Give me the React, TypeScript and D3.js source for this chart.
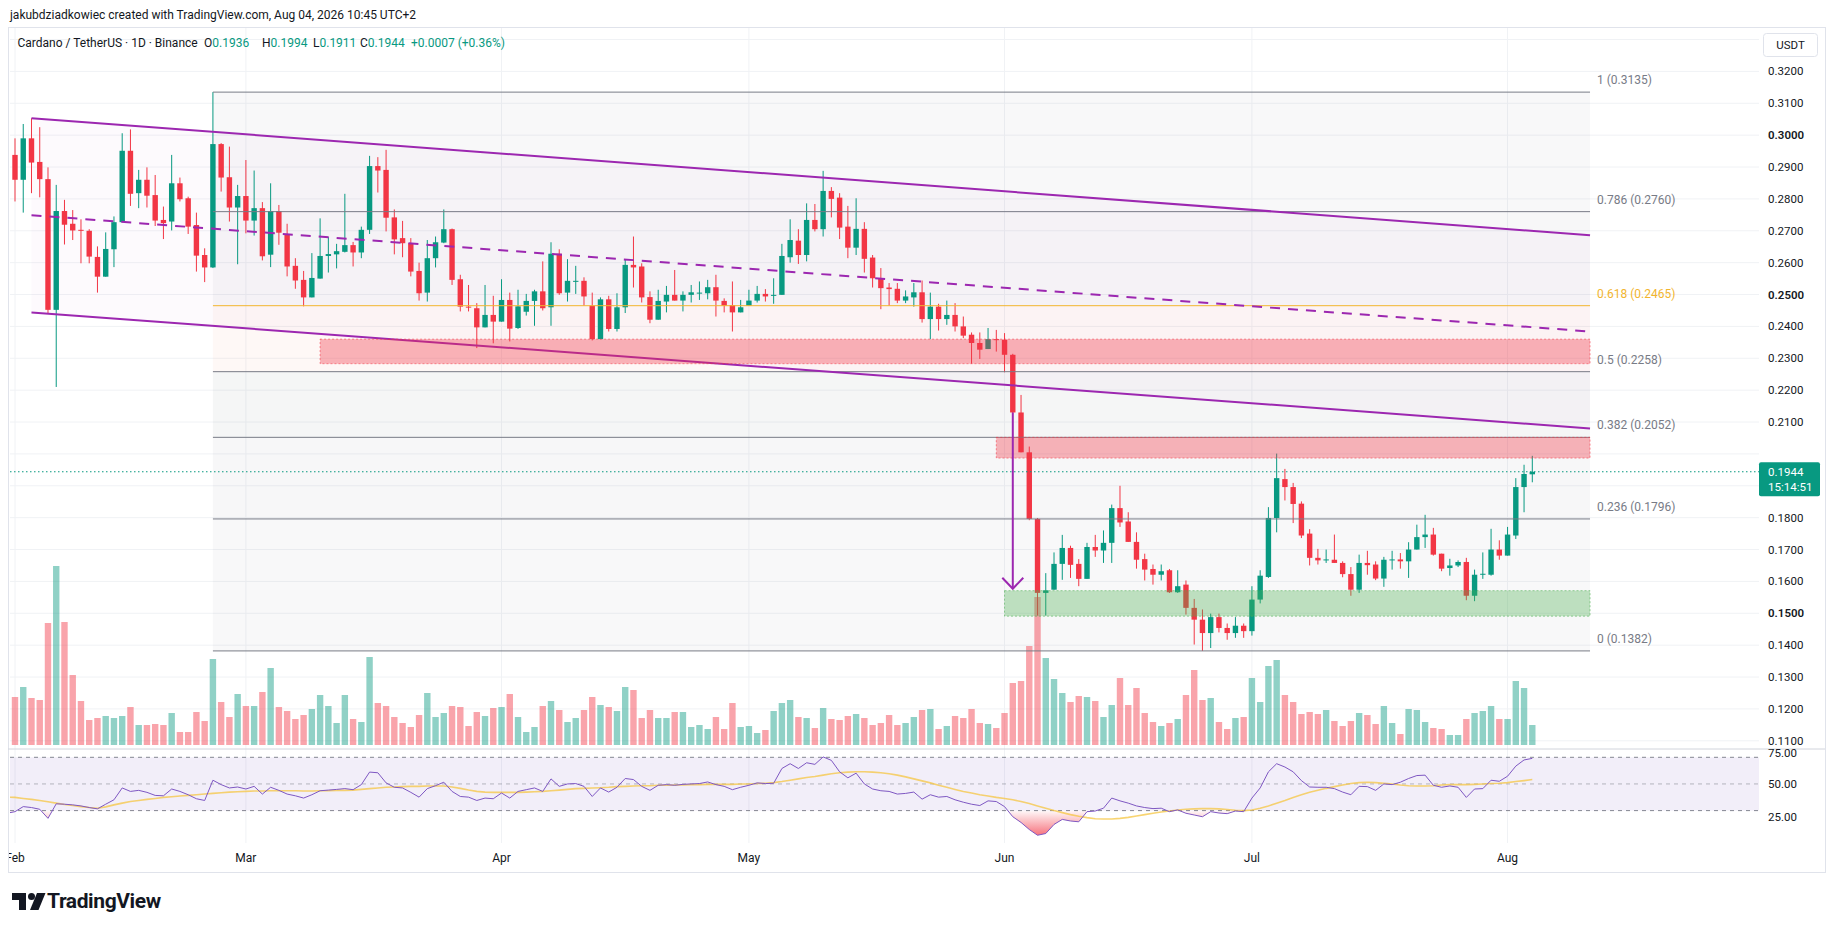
import React, { useMemo } from "react";
import * as d3 from "d3";

const W = 1835;
const H = 931;
const FONT = "Roboto, 'Noto Sans', sans-serif";
const GREEN = "#089981";
const RED = "#f23645";
const PURPLE = "#9c27b0";

// first bar is Jan 31, one bar per day up to Aug 4
const FIRST_BAR = new Date(Date.UTC(2026, 0, 31));

const OPEN = [
  0.3, 0.2938, 0.286, 0.299, 0.2916, 0.2862, 0.2452, 0.2762, 0.2722, 0.2703, 0.27, 0.2618, 0.2556, 0.2642, 0.2727,
  0.2951, 0.2818, 0.286, 0.2812, 0.2734, 0.2729, 0.2849, 0.2802, 0.2718, 0.2624, 0.2585, 0.2972, 0.2868, 0.2773,
  0.2809, 0.2732, 0.2771, 0.2625, 0.2762, 0.269, 0.259, 0.2546, 0.2491, 0.255, 0.2621, 0.2626, 0.2634, 0.2655,
  0.2632, 0.2703, 0.2903, 0.2891, 0.2742, 0.2677, 0.2661, 0.2574, 0.2506, 0.2614, 0.2663, 0.2705, 0.2548, 0.2462,
  0.2457, 0.2397, 0.2436, 0.2415, 0.2483, 0.2395, 0.2446, 0.248, 0.251, 0.246, 0.2628, 0.2506, 0.2542, 0.2543,
  0.2465, 0.236, 0.2485, 0.2392, 0.246, 0.2593, 0.2588, 0.2492, 0.2421, 0.2478, 0.2499, 0.2481, 0.2499, 0.2504,
  0.2504, 0.2523, 0.248, 0.2467, 0.2444, 0.2465, 0.2481, 0.2502, 0.2496, 0.2499, 0.2617, 0.2669, 0.2624, 0.2734,
  0.2705, 0.2825, 0.2804, 0.2713, 0.2647, 0.2706, 0.2616, 0.2551, 0.2522, 0.2518, 0.2481, 0.2491, 0.2507, 0.2423,
  0.2462, 0.2423, 0.2436, 0.24, 0.2374, 0.2348, 0.2329, 0.236, 0.2358, 0.2311, 0.213, 0.2005, 0.1796, 0.1564,
  0.1574, 0.1655, 0.1705, 0.1655, 0.1608, 0.1708, 0.1697, 0.1721, 0.183, 0.1788, 0.1724, 0.167, 0.1639, 0.1621,
  0.1635, 0.1566, 0.159, 0.1517, 0.148, 0.1438, 0.1488, 0.1454, 0.1438, 0.1461, 0.1444, 0.1543, 0.1614, 0.1799,
  0.1921, 0.1896, 0.1844, 0.175, 0.1674, 0.1668, 0.1668, 0.1658, 0.1623, 0.1574, 0.1658, 0.1653, 0.1609, 0.1668,
  0.1669, 0.1663, 0.17, 0.1739, 0.1747, 0.1687, 0.1642, 0.165, 0.1661, 0.1555, 0.1622, 0.1621, 0.17, 0.1681,
  0.1744, 0.1896, 0.1936,
];
const HIGH = [
  0.305, 0.299, 0.3035, 0.3053, 0.3025, 0.2899, 0.2844, 0.2797, 0.2765, 0.2736, 0.2705, 0.2651, 0.2695, 0.2745,
  0.3006, 0.3018, 0.2891, 0.2899, 0.2875, 0.2776, 0.2938, 0.2867, 0.2807, 0.2757, 0.2645, 0.3135, 0.2975, 0.2964,
  0.2844, 0.2922, 0.2889, 0.279, 0.2849, 0.2781, 0.2722, 0.2614, 0.2574, 0.263, 0.2739, 0.268, 0.2659, 0.2816,
  0.2665, 0.2713, 0.2935, 0.2931, 0.2954, 0.2767, 0.2731, 0.2677, 0.26, 0.2671, 0.2682, 0.2767, 0.2707, 0.2562,
  0.253, 0.2473, 0.253, 0.2496, 0.2548, 0.2506, 0.2515, 0.2502, 0.2515, 0.2604, 0.2664, 0.2642, 0.2611, 0.259,
  0.2554, 0.2506, 0.2491, 0.2496, 0.2504, 0.2611, 0.2682, 0.2598, 0.251, 0.2515, 0.2527, 0.2577, 0.251, 0.253,
  0.2541, 0.2546, 0.2562, 0.2488, 0.2541, 0.2483, 0.2515, 0.2527, 0.2517, 0.2551, 0.2659, 0.2736, 0.2705, 0.2786,
  0.2784, 0.2888, 0.2837, 0.2818, 0.2778, 0.2802, 0.2727, 0.2624, 0.2583, 0.2536, 0.2536, 0.2513, 0.2536, 0.2544,
  0.2506, 0.2471, 0.2481, 0.2473, 0.2431, 0.2381, 0.2381, 0.2395, 0.2389, 0.2379, 0.2314, 0.2185, 0.2023, 0.1799,
  0.1626, 0.1691, 0.1746, 0.1712, 0.167, 0.1721, 0.1746, 0.176, 0.1841, 0.19, 0.1817, 0.1754, 0.1687, 0.1653,
  0.1653, 0.1639, 0.1635, 0.1603, 0.1545, 0.1512, 0.1499, 0.1499, 0.1468, 0.1488, 0.1468, 0.1585, 0.1635, 0.1833,
  0.2001, 0.1953, 0.1909, 0.1851, 0.1764, 0.1702, 0.17, 0.1747, 0.1663, 0.1645, 0.1684, 0.1696, 0.1663, 0.1677,
  0.1696, 0.1689, 0.1723, 0.1778, 0.1809, 0.1768, 0.1687, 0.1671, 0.1666, 0.1674, 0.1637, 0.1691, 0.1765, 0.1729,
  0.1771, 0.1924, 0.1966, 0.1994,
];
const LOW = [
  0.29, 0.2792, 0.2757, 0.2818, 0.2805, 0.2439, 0.221, 0.2657, 0.2671, 0.2598, 0.2598, 0.2506, 0.2556, 0.2586,
  0.2727, 0.2778, 0.2771, 0.2773, 0.2715, 0.2674, 0.2701, 0.2792, 0.269, 0.2572, 0.2539, 0.2583, 0.2823, 0.2729,
  0.2595, 0.2692, 0.2685, 0.2607, 0.2586, 0.2656, 0.2557, 0.2518, 0.2463, 0.2491, 0.255, 0.2569, 0.2582, 0.2632,
  0.2588, 0.2614, 0.269, 0.282, 0.2698, 0.2626, 0.2617, 0.2557, 0.2481, 0.2478, 0.2585, 0.2661, 0.253, 0.2447,
  0.2447, 0.2332, 0.2397, 0.2347, 0.2415, 0.2353, 0.2392, 0.2434, 0.2402, 0.245, 0.2402, 0.2499, 0.2478, 0.2502,
  0.2465, 0.2356, 0.236, 0.2384, 0.2384, 0.2442, 0.2522, 0.2475, 0.241, 0.2421, 0.2444, 0.2481, 0.2447, 0.2475,
  0.2483, 0.2485, 0.2431, 0.2444, 0.2384, 0.2444, 0.2465, 0.2475, 0.2478, 0.2471, 0.2499, 0.26, 0.2596, 0.2604,
  0.2698, 0.2682, 0.2742, 0.2674, 0.2614, 0.2624, 0.2569, 0.2522, 0.2454, 0.2465, 0.2473, 0.2473, 0.2462, 0.2412,
  0.236, 0.2387, 0.2405, 0.2384, 0.2363, 0.2283, 0.2298, 0.2329, 0.2321, 0.2256, 0.2128, 0.2005, 0.1792, 0.1493,
  0.1493, 0.1574, 0.1605, 0.1611, 0.1585, 0.1608, 0.1677, 0.1658, 0.1658, 0.1771, 0.1724, 0.164, 0.1603, 0.159,
  0.1603, 0.1564, 0.1564, 0.1496, 0.1402, 0.1382, 0.1391, 0.144, 0.1417, 0.1423, 0.1423, 0.143, 0.1531, 0.1611,
  0.1754, 0.1854, 0.1783, 0.1736, 0.165, 0.1653, 0.1658, 0.1658, 0.1613, 0.1555, 0.1564, 0.1621, 0.1604, 0.1583,
  0.1637, 0.164, 0.1611, 0.17, 0.1705, 0.1681, 0.1632, 0.1618, 0.1645, 0.1541, 0.1538, 0.1608, 0.1618, 0.1668,
  0.1681, 0.1733, 0.1817, 0.1911,
];
const CLOSE = [
  0.2938, 0.286, 0.299, 0.2914, 0.2862, 0.2452, 0.2762, 0.2719, 0.2701, 0.2701, 0.2619, 0.2556, 0.2643, 0.2727,
  0.2951, 0.2816, 0.286, 0.281, 0.2732, 0.2724, 0.2849, 0.2799, 0.2713, 0.2622, 0.2585, 0.2972, 0.2867, 0.2773,
  0.2809, 0.2732, 0.2771, 0.262, 0.2762, 0.2694, 0.2588, 0.2544, 0.2491, 0.2552, 0.2621, 0.2627, 0.2636, 0.2655,
  0.2632, 0.2703, 0.2903, 0.2889, 0.2741, 0.2673, 0.2661, 0.2572, 0.2504, 0.2614, 0.2664, 0.2705, 0.2546, 0.2462,
  0.246, 0.2397, 0.2436, 0.2415, 0.2483, 0.2393, 0.2463, 0.248, 0.251, 0.2457, 0.2628, 0.2504, 0.2543, 0.2543,
  0.2494, 0.236, 0.2485, 0.2392, 0.246, 0.2593, 0.2585, 0.2491, 0.2421, 0.248, 0.2499, 0.2481, 0.2499, 0.2507,
  0.2506, 0.2523, 0.2481, 0.2465, 0.2444, 0.246, 0.2481, 0.2502, 0.2494, 0.2499, 0.2621, 0.2671, 0.2624, 0.2734,
  0.2705, 0.2825, 0.28, 0.271, 0.2647, 0.2706, 0.2612, 0.2551, 0.252, 0.2517, 0.2481, 0.2494, 0.2507, 0.2423,
  0.2462, 0.2423, 0.2436, 0.24, 0.2371, 0.2348, 0.2327, 0.236, 0.2358, 0.2311, 0.213, 0.2005, 0.1796, 0.1564,
  0.1572, 0.1655, 0.1705, 0.1652, 0.1608, 0.1708, 0.1697, 0.1721, 0.183, 0.1785, 0.1724, 0.1668, 0.1637, 0.1621,
  0.1632, 0.1566, 0.1585, 0.1517, 0.148, 0.1438, 0.1488, 0.1454, 0.1438, 0.1461, 0.1444, 0.1543, 0.1618, 0.1799,
  0.1924, 0.1896, 0.1843, 0.1744, 0.1674, 0.1666, 0.1669, 0.1658, 0.1623, 0.1574, 0.1658, 0.1651, 0.1609, 0.1668,
  0.1669, 0.1663, 0.17, 0.1739, 0.1747, 0.1684, 0.164, 0.165, 0.1661, 0.1555, 0.1621, 0.1624, 0.17, 0.1681,
  0.1747, 0.1896, 0.1937, 0.1944,
];
// volume, millions of ADA (relative)
const VOLUME = [
  115, 48, 58, 47, 45, 122, 179, 123, 70, 44, 25, 27, 29, 27, 29, 38, 20, 20, 21, 20, 32, 13, 13, 33, 24, 86, 43,
  28, 51, 39, 39, 53, 77, 38, 34, 26, 30, 36, 50, 39, 22, 50, 26, 23, 88, 42, 39, 28, 22, 18, 30, 52, 28, 32, 39,
  38, 19, 33, 29, 37, 38, 51, 28, 13, 18, 39, 44, 35, 23, 27, 35, 48, 40, 38, 34, 58, 55, 27, 35, 27, 27, 33, 33,
  18, 20, 16, 28, 16, 42, 18, 19, 12, 15, 34, 42, 45, 28, 27, 17, 37, 26, 25, 29, 31, 27, 20, 22, 30, 20, 22, 28,
  35, 36, 16, 19, 29, 27, 36, 22, 21, 17, 32, 62, 64, 99, 148, 87, 66, 52, 43, 49, 48, 44, 28, 40, 67, 40, 57, 32,
  23, 19, 22, 26, 50, 75, 45, 47, 23, 16, 27, 28, 67, 43, 79, 85, 50, 43, 31, 33, 31, 35, 24, 19, 24, 32, 30, 21,
  39, 22, 11, 36, 35, 23, 17, 16, 10, 10, 26, 32, 34, 39, 26, 26, 64, 57, 20,
];
const RSI = [
  28.0, 29.2, 33.0, 32.3, 31.0, 24.2, 35.1, 34.8, 34.3, 33.5, 32.3, 31.3, 34.8, 38.1, 47.0, 44.4, 45.2, 43.7, 41.4,
  41.1, 46.2, 44.4, 41.9, 38.9, 37.6, 52.8, 49.5, 47.0, 47.7, 46.2, 48.2, 42.4, 47.5, 45.2, 42.4, 41.1, 39.4, 41.9,
  44.9, 45.4, 45.9, 46.5, 45.7, 49.5, 58.9, 58.4, 50.8, 47.5, 47.0, 43.7, 40.1, 46.5, 48.7, 51.3, 44.4, 40.6, 40.1,
  37.6, 39.4, 38.9, 43.2, 39.4, 44.4, 45.7, 47.0, 44.4, 53.8, 48.2, 50.0, 50.3, 48.2, 40.6, 47.0, 43.9, 47.5, 54.1,
  53.3, 48.2, 45.2, 49.0, 49.5, 49.0, 49.7, 50.0, 50.3, 51.5, 49.5, 48.2, 45.7, 47.5, 49.0, 50.8, 50.3, 50.5, 61.6,
  65.2, 61.6, 65.9, 64.7, 70.3, 67.7, 59.1, 54.6, 58.1, 50.0, 46.2, 44.9, 44.4, 42.4, 42.9, 43.9, 38.6, 41.9, 40.1,
  40.6, 38.1, 36.3, 34.8, 33.8, 37.3, 36.8, 33.0, 25.4, 21.1, 15.8, 11.5, 12.8, 19.6, 23.4, 22.2, 21.6, 29.2, 29.7,
  31.8, 39.4, 37.3, 35.6, 33.5, 32.3, 31.5, 31.8, 29.2, 30.5, 28.0, 26.7, 25.4, 29.2, 28.2, 27.7, 29.7, 29.2, 39.4,
  47.0, 59.1, 65.2, 62.7, 59.1, 52.5, 47.7, 47.5, 47.5, 46.5, 43.9, 41.9, 48.2, 48.0, 45.2, 50.0, 49.5, 51.3, 54.1,
  56.3, 56.6, 49.0, 47.5, 48.5, 47.5, 39.9, 46.2, 46.5, 52.8, 52.0, 55.8, 63.4, 68.0, 69.2,
];
const RSI_MA = [
  40.1, 39.9, 39.1, 38.4, 37.6, 36.6, 35.6, 34.6, 33.8, 33.0, 32.3, 31.8, 32.8, 34.3, 35.6, 36.8, 37.6, 38.4, 39.1,
  39.9, 40.4, 40.9, 41.4, 41.9, 42.4, 42.9, 43.4, 43.9, 44.2, 44.4, 44.7, 44.7, 44.9, 44.9, 44.9, 44.9, 44.7, 44.7,
  44.9, 44.9, 45.2, 45.2, 45.4, 45.9, 46.5, 47.0, 47.5, 47.7, 48.0, 48.2, 48.2, 48.5, 48.5, 48.5, 47.7, 46.7, 45.4,
  44.4, 43.9, 43.7, 43.7, 43.7, 43.7, 43.9, 44.2, 44.4, 44.9, 45.4, 45.9, 46.5, 46.7, 47.0, 47.2, 47.5, 48.0, 48.2,
  48.5, 48.7, 48.7, 49.0, 49.0, 49.2, 49.2, 49.5, 49.5, 49.7, 49.7, 49.7, 49.7, 50.0, 50.0, 50.3, 50.5, 51.0, 51.8,
  52.8, 53.8, 54.8, 55.6, 56.6, 57.6, 58.4, 58.9, 59.1, 59.1, 58.9, 58.4, 57.6, 56.6, 55.3, 53.8, 52.3, 50.8, 49.0,
  47.5, 45.9, 44.4, 43.2, 41.9, 40.9, 39.9, 39.1, 38.1, 36.8, 35.3, 33.5, 31.8, 30.0, 28.5, 27.0, 25.7, 24.7, 23.9,
  23.7, 23.7, 24.2, 24.9, 25.9, 27.0, 28.0, 29.0, 29.7, 30.5, 31.0, 31.3, 31.5, 31.5, 31.3, 30.8, 30.3, 30.0, 30.5,
  31.8, 33.5, 35.6, 37.6, 39.9, 41.9, 43.7, 45.2, 46.7, 48.0, 49.2, 50.3, 51.0, 51.3, 51.0, 50.5, 50.0, 49.2, 48.7,
  48.5, 48.5, 48.7, 49.2, 49.5, 49.5, 49.5, 49.7, 50.0, 50.3, 50.5, 51.0, 51.8, 52.5, 53.3,
];

const PRICE_TICKS = [
  0.32, 0.31, 0.3, 0.29, 0.28, 0.27, 0.26, 0.25, 0.24, 0.23, 0.22, 0.21, 0.2, 0.19, 0.18, 0.17, 0.16, 0.15, 0.14,
  0.13, 0.12, 0.11,
];
const BOLD_TICKS = [0.3, 0.25, 0.2, 0.15];
const RSI_TICKS = [75, 50, 25];
const RSI_BANDS = [70, 50, 30];

// drawings
const FIB_START = new Date(Date.UTC(2026, 1, 25));
const FIB_END = new Date(Date.UTC(2026, 7, 11));
const FIB_LEVELS = [1, 0.786, 0.618, 0.5, 0.382, 0.236, 0];
const FIB_PRICES = [0.3135, 0.276, 0.2465, 0.2258, 0.2052, 0.1796, 0.1382];
const FIB_ZONES = [
  "rgba(120,123,134,0.05)",
  "rgba(120,123,134,0.06)",
  "rgba(242,120,75,0.05)",
  "rgba(120,123,134,0.07)",
  "rgba(120,123,134,0.06)",
  "rgba(120,123,134,0.05)",
];

const CH_START = new Date(Date.UTC(2026, 1, 3));
const CH_END = new Date(Date.UTC(2026, 7, 11));
const CH_UPPER = [0.3053, 0.2686];
const CH_MID = [0.2749, 0.2384];
const CH_LOWER = [0.2444, 0.208];

const BOXES = [
  { start: new Date(Date.UTC(2026, 2, 10)), top: 0.236, bottom: 0.2283, kind: "red" },
  { start: new Date(Date.UTC(2026, 4, 31)), top: 0.2052, bottom: 0.1987, kind: "red" },
  { start: new Date(Date.UTC(2026, 5, 1)), top: 0.1571, bottom: 0.1491, kind: "green" },
];
const ARROW_DATE = new Date(Date.UTC(2026, 5, 2));
const ARROW_FROM = 0.213;
const ARROW_TO = 0.1577;

export default function App() {
  const bars = useMemo(
    () =>
      OPEN.map((o, i) => ({
        date: d3.utcDay.offset(FIRST_BAR, i),
        open: o,
        high: HIGH[i],
        low: LOW[i],
        close: CLOSE[i],
        volume: VOLUME[i],
        rsi: RSI[i],
        ma: RSI_MA[i],
      })),
    [],
  );

  const x = d3
    .scaleUtc()
    .domain([new Date(Date.UTC(2026, 1, 1)), new Date(Date.UTC(2026, 7, 4))])
    .range([15, 1532.3]);
  const y = d3.scaleLinear().domain([0.11, 0.32]).range([740.8, 71.4]);
  const yVol = d3.scaleLinear().domain([0, d3.max(VOLUME) as number]).range([745, 566]);
  const yRsi = d3.scaleLinear().domain([30, 70]).range([810.6, 757.3]);

  const plotL = 10;
  const plotR = 1759;
  const mainTop = 28;
  const sep = 749;
  const rsiBottom = 843;
  const axisX = 1768;

  const months = x.ticks(d3.utcMonth.every(1) as d3.CountableTimeInterval);
  const last = bars[bars.length - 1];
  const prev = bars[bars.length - 2];
  const change = last.close - prev.close;
  const changePct = (change / prev.close) * 100;
  const lastY = y(last.close);

  const bodyW = 5.4;
  const volW = 6.4;

  const rsiLine = d3
    .line<(typeof bars)[number]>()
    .x((d) => x(d.date))
    .y((d) => yRsi(d.rsi));
  const maLine = d3
    .line<(typeof bars)[number]>()
    .x((d) => x(d.date))
    .y((d) => yRsi(d.ma));
  const lowArea = d3
    .area<(typeof bars)[number]>()
    .x((d) => x(d.date))
    .y0(yRsi(30))
    .y1((d) => yRsi(d.rsi));
  const highArea = d3
    .area<(typeof bars)[number]>()
    .x((d) => x(d.date))
    .y0(yRsi(70))
    .y1((d) => yRsi(d.rsi));

  const fx0 = x(FIB_START);
  const fx1 = x(FIB_END);
  const cx0 = x(CH_START);
  const cx1 = x(CH_END);
  const ax = x(ARROW_DATE);
  const tipY = y(ARROW_TO);

  return (
    <div style={{ position: "absolute", left: 0, top: 0, width: W, height: H, background: "#fff" }}>
      <svg width={W} height={H} style={{ display: "block", fontFamily: FONT }}>
        <defs>
          <clipPath id="main-clip">
            <rect x={plotL} y={mainTop} width={plotR - plotL} height={sep - mainTop} />
          </clipPath>
          <clipPath id="rsi-clip">
            <rect x={plotL} y={sep + 0.5} width={plotR - plotL} height={rsiBottom - sep} />
          </clipPath>
          <clipPath id="rsi-below">
            <rect x={plotL} y={yRsi(30)} width={plotR - plotL} height={rsiBottom - yRsi(30)} />
          </clipPath>
          <clipPath id="rsi-above">
            <rect x={plotL} y={sep} width={plotR - plotL} height={yRsi(70) - sep} />
          </clipPath>
          <clipPath id="axis-clip">
            <rect x={plotL - 1} y={rsiBottom} width={plotR - plotL} height={30} />
          </clipPath>
          <linearGradient id="oversold" gradientUnits="userSpaceOnUse" x1="0" x2="0" y1={yRsi(30)} y2={yRsi(10)}>
            <stop offset="0" stopColor={RED} stopOpacity={0.03} />
            <stop offset="1" stopColor={RED} stopOpacity={0.75} />
          </linearGradient>
          <linearGradient id="overbought" gradientUnits="userSpaceOnUse" x1="0" x2="0" y1={yRsi(70)} y2={yRsi(90)}>
            <stop offset="0" stopColor={GREEN} stopOpacity={0.03} />
            <stop offset="1" stopColor={GREEN} stopOpacity={0.75} />
          </linearGradient>
        </defs>

        {/* header */}
        <text x={10} y={19} fontSize={12} fill="#131722">
          jakubdziadkowiec created with TradingView.com, Aug 04, 2026 10:45 UTC+2
        </text>
        <rect x={8.5} y={27.5} width={1817} height={845} fill="none" stroke="#e0e3eb" />

        {/* main pane grid */}
        <g clipPath="url(#main-clip)">
          {[0.33, ...PRICE_TICKS].map((t) => (
            <line key={t} x1={plotL} x2={plotR} y1={y(t)} y2={y(t)} stroke="#f0f2f5" />
          ))}
        </g>
        {months.map((m) => (
          <line key={+m} x1={x(m)} x2={x(m)} y1={mainTop} y2={rsiBottom} stroke="#f0f2f5" />
        ))}

        <g clipPath="url(#main-clip)">
          {/* fib zone fills */}
          {FIB_ZONES.map((c, i) => (
            <rect
              key={i}
              x={fx0}
              width={fx1 - fx0}
              y={y(FIB_PRICES[i])}
              height={y(FIB_PRICES[i + 1]) - y(FIB_PRICES[i])}
              fill={c}
            />
          ))}
          {/* channel fill */}
          <polygon
            points={[
              [cx0, y(CH_UPPER[0])],
              [cx1, y(CH_UPPER[1])],
              [cx1, y(CH_LOWER[1])],
              [cx0, y(CH_LOWER[0])],
            ]
              .map((p) => p.join(","))
              .join(" ")}
            fill="rgba(156,39,176,0.022)"
          />

          {/* volume */}
          {bars.map((d) => (
            <rect
              key={+d.date}
              x={x(d.date) - volW / 2}
              width={volW}
              y={yVol(d.volume)}
              height={yVol(0) - yVol(d.volume)}
              fill={d.close >= d.open ? GREEN : RED}
              fillOpacity={0.45}
            />
          ))}

          {/* candles */}
          {bars.map((d) => {
            const c = d.close >= d.open ? GREEN : RED;
            const cx = x(d.date);
            const top = y(Math.max(d.open, d.close));
            const bot = y(Math.min(d.open, d.close));
            return (
              <g key={+d.date}>
                <line x1={cx} x2={cx} y1={y(d.high)} y2={y(d.low)} stroke={c} strokeWidth={1} />
                <rect x={cx - bodyW / 2} width={bodyW} y={top} height={Math.max(1, bot - top)} fill={c} />
              </g>
            );
          })}

          {/* fib lines */}
          {FIB_LEVELS.map((lv, i) => (
            <line
              key={lv}
              x1={fx0}
              x2={fx1}
              y1={y(FIB_PRICES[i])}
              y2={y(FIB_PRICES[i])}
              stroke={lv === 0.618 ? "#f2b52f" : "#787b86"}
              strokeWidth={1}
            />
          ))}

          {/* channel */}
          <line x1={cx0} x2={cx1} y1={y(CH_UPPER[0])} y2={y(CH_UPPER[1])} stroke={PURPLE} strokeWidth={2} />
          <line x1={cx0} x2={cx1} y1={y(CH_LOWER[0])} y2={y(CH_LOWER[1])} stroke={PURPLE} strokeWidth={2} />
          <line
            x1={cx0}
            x2={cx1}
            y1={y(CH_MID[0])}
            y2={y(CH_MID[1])}
            stroke={PURPLE}
            strokeWidth={2}
            strokeDasharray="10 8"
          />

          {/* zones */}
          {BOXES.map((b, i) => {
            const col = b.kind === "red" ? "242,54,69" : "76,175,80";
            return (
              <rect
                key={i}
                x={x(b.start)}
                width={fx1 - x(b.start)}
                y={y(b.top)}
                height={y(b.bottom) - y(b.top)}
                fill={`rgba(${col},${b.kind === "red" ? 0.36 : 0.34})`}
                stroke={`rgba(${col},0.55)`}
                strokeDasharray="2 2"
              />
            );
          })}

          {/* arrow */}
          <line x1={ax} x2={ax} y1={y(ARROW_FROM)} y2={tipY} stroke={PURPLE} strokeWidth={2} />
          <polyline
            points={`${ax - 10.5},${tipY - 11} ${ax},${tipY} ${ax + 10.5},${tipY - 11}`}
            fill="none"
            stroke={PURPLE}
            strokeWidth={2}
          />

          {/* last price line */}
          <line x1={plotL} x2={plotR} y1={lastY} y2={lastY} stroke={GREEN} strokeDasharray="1.5 2.5" />
        </g>

        {/* fib labels */}
        {FIB_LEVELS.map((lv, i) => (
          <text
            key={lv}
            x={fx1 + 7}
            y={y(FIB_PRICES[i]) - 8}
            fontSize={12}
            fill={lv === 0.618 ? "#f2b52f" : "#787b86"}
          >
            {`${lv} (${FIB_PRICES[i].toFixed(4)})`}
          </text>
        ))}

        {/* price axis */}
        <rect x={1763.5} y={33.5} width={54} height={23} rx={3} fill="#fff" stroke="#e0e3eb" />
        <text x={1790.5} y={45} fontSize={11.5} fill="#131722" textAnchor="middle" dominantBaseline="central">
          USDT
        </text>
        {PRICE_TICKS.filter((t) => Math.abs(y(t) - lastY) > 20).map((t) => (
          <text
            key={t}
            x={axisX}
            y={y(t)}
            fontSize={11.5}
            fill="#131722"
            fontWeight={BOLD_TICKS.includes(t) ? 600 : 400}
            dominantBaseline="central"
          >
            {t.toFixed(4)}
          </text>
        ))}
        <rect x={1759} y={lastY - 9.5} width={61} height={34} rx={2} fill={GREEN} />
        <text x={axisX} y={lastY + 0.5} fontSize={11.5} fill="#fff" dominantBaseline="central">
          {last.close.toFixed(4)}
        </text>
        <text x={axisX} y={lastY + 15} fontSize={11.5} fill="#fff" dominantBaseline="central">
          15:14:51
        </text>

        {/* ticker line */}
        <text x={17.5} y={47} fontSize={12} fill="#131722">
          <tspan>Cardano / TetherUS · 1D · Binance</tspan>
          <tspan x={204}>O</tspan>
          <tspan fill={GREEN}>{last.open.toFixed(4)}</tspan>
          <tspan x={262}>H</tspan>
          <tspan fill={GREEN}>{last.high.toFixed(4)}</tspan>
          <tspan x={313}>L</tspan>
          <tspan fill={GREEN}>{last.low.toFixed(4)}</tspan>
          <tspan x={360}>C</tspan>
          <tspan fill={GREEN}>{last.close.toFixed(4)}</tspan>
          <tspan x={411} fill={GREEN}>
            {`${change >= 0 ? "+" : ""}${change.toFixed(4)} (${change >= 0 ? "+" : ""}${changePct.toFixed(2)}%)`}
          </tspan>
        </text>

        {/* pane separator */}
        <line x1={8} x2={1825} y1={sep} y2={sep} stroke="#d1d4dc" />

        {/* RSI pane */}
        <g clipPath="url(#rsi-clip)">
          <rect
            x={plotL}
            width={plotR - plotL}
            y={yRsi(70)}
            height={yRsi(30) - yRsi(70)}
            fill="rgba(126,87,194,0.1)"
          />
          {RSI_BANDS.map((b) => (
            <line
              key={b}
              x1={plotL}
              x2={plotR}
              y1={yRsi(b)}
              y2={yRsi(b)}
              stroke="#787b86"
              strokeOpacity={b === 50 ? 0.5 : 0.9}
              strokeDasharray="4 4"
            />
          ))}
          <path d={lowArea(bars) ?? ""} fill="url(#oversold)" clipPath="url(#rsi-below)" />
          <path d={highArea(bars) ?? ""} fill="url(#overbought)" clipPath="url(#rsi-above)" />
          <path d={maLine(bars) ?? ""} fill="none" stroke="#f5c542" strokeOpacity={0.75} strokeWidth={1.6} />
          <path d={rsiLine(bars) ?? ""} fill="none" stroke="#7e57c2" strokeWidth={1} />
        </g>
        {RSI_TICKS.map((t) => (
          <text
            key={t}
            x={axisX}
            y={yRsi(t) + (t === 75 ? 2 : 0)}
            fontSize={11.5}
            fill="#131722"
            dominantBaseline="central"
          >
            {t.toFixed(2)}
          </text>
        ))}

        {/* time axis */}
        <g clipPath="url(#axis-clip)">
          {months.map((m) => (
            <text
              key={+m}
              x={x(m)}
              y={858}
              fontSize={12}
              fill="#131722"
              textAnchor="middle"
              dominantBaseline="central"
            >
              {d3.utcFormat("%b")(m)}
            </text>
          ))}
        </g>

        {/* logo */}
        <g transform="translate(12,893)" fill="#131722">
          <path d="M0 0 H14 V17 H7 V7 H0 Z" />
          <circle cx={19.5} cy={3.5} r={3.5} />
          <path d="M25 0 H33.5 L26.5 17 H18 Z" />
        </g>
        <text x={47} y={908} fontSize={21} fontWeight={700} fill="#131722" letterSpacing={-0.4}>
          TradingView
        </text>
      </svg>
    </div>
  );
}
